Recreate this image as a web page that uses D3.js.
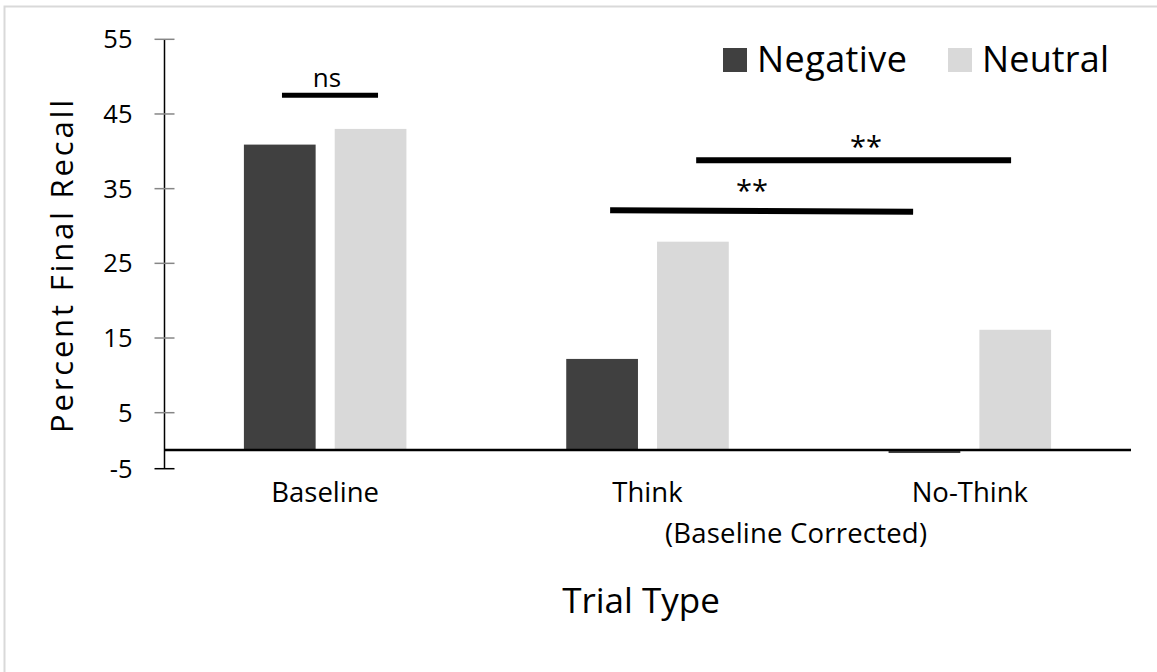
<!DOCTYPE html>
<html>
<head>
<meta charset="utf-8">
<script src="https://cdn.jsdelivr.net/npm/d3@7"></script>
<style>
  html, body { margin: 0; padding: 0; background: #fff; }
  svg { display: block; font-family: "Open Sans", sans-serif; }
</style>
</head>
<body>
<svg id="chart" width="1157" height="672"></svg>
<script>
// ---- data ----
const categories = ["Baseline", "Think", "No-Think"];
const seriesNames = ["Negative", "Neutral"];
const negativeValues = [40.9, 12.2, -0.4];
const neutralValues = [43.0, 27.9, 16.1];
// the bottom tick of the original axis sits at the axis minimum but is labelled "-5"
const yTickValues = [-2.5, 5, 15, 25, 35, 45, 55];
const yTickLabels = ["-5", "5", "15", "25", "35", "45", "55"];
const seriesColors = ["#404040", "#d9d9d9"];
// significance annotations: category + fraction of band for start/end, y in data units
const sigLabels = ["ns", "**", "**"];
const sigFrom = [["Baseline", 0.366], ["Think", 0.651], ["Think", 0.384]];
const sigTo = [["Baseline", 0.664], ["No-Think", 0.628], ["No-Think", 0.324]];
const sigY0 = [47.5, 38.8, 32.1];
const sigY1 = [47.5, 38.8, 31.9];

const svg = d3.select("#chart");

// outer frame
svg.append("rect")
  .attr("x", 4.5).attr("y", 6.5)
  .attr("width", 1200).attr("height", 700)
  .attr("fill", "none").attr("stroke", "#d9d9d9").attr("stroke-width", 2);

const x0 = d3.scaleBand().domain(categories).range([164, 1131]).padding(0);
const x1 = d3.scaleBand().domain(seriesNames).range([0, x0.bandwidth()])
  .paddingInner(0.21).paddingOuter(0.88);
const y = d3.scaleLinear().domain([-2.5, 55]).range([468.7, 39.3]);

// y axis
const yAxis = svg.append("g").attr("transform", "translate(164.5,0)");
yAxis.append("line")
  .attr("x1", 0).attr("x2", 0).attr("y1", y(55)).attr("y2", y(-2.5))
  .attr("stroke", "#000").attr("stroke-width", 1.5);
yAxis.selectAll("line.tick").data(yTickValues).join("line")
  .attr("class", "tick")
  .attr("x1", -10).attr("x2", 10)
  .attr("y1", d => y(d)).attr("y2", d => y(d))
  .attr("stroke", d => d < 0 ? "#000" : "#868686").attr("stroke-width", 1.5);
yAxis.selectAll("text").data(yTickValues).join("text")
  .attr("x", -32).attr("y", d => y(d) + 9)
  .attr("text-anchor", "end")
  .attr("font-size", 25.5).attr("fill", "#000")
  .text((d, i) => yTickLabels[i]);

// bars
const rows = categories.map((c, i) => ({ cat: c, vals: [negativeValues[i], neutralValues[i]] }));
const groups = svg.selectAll("g.grp").data(rows).join("g")
  .attr("class", "grp")
  .attr("transform", d => `translate(${x0(d.cat)},0)`);
groups.selectAll("rect").data(d => d.vals.map((v, j) => ({ v, s: seriesNames[j], c: seriesColors[j] })))
  .join("rect")
  .attr("x", d => x1(d.s))
  .attr("width", x1.bandwidth())
  .attr("y", d => Math.min(y(d.v), y(0)))
  .attr("height", d => Math.abs(y(d.v) - y(0)))
  .attr("fill", d => d.c);

// x axis line
svg.append("line")
  .attr("x1", 164).attr("x2", 1131)
  .attr("y1", y(0)).attr("y2", y(0))
  .attr("stroke", "#000").attr("stroke-width", 2.5);

// category labels
svg.selectAll("text.cat").data(categories).join("text")
  .attr("class", "cat")
  .attr("x", d => x0(d) + x0.bandwidth() / 2)
  .attr("y", 502)
  .attr("text-anchor", "middle")
  .attr("font-size", 27.5)
  .text(d => d);
svg.append("text")
  .attr("x", 796).attr("y", 543)
  .attr("text-anchor", "middle").attr("font-size", 27.5)
  .attr("textLength", 262).attr("lengthAdjust", "spacing")
  .text("(Baseline Corrected)");

// axis titles
svg.append("text")
  .attr("x", 641).attr("y", 613)
  .attr("text-anchor", "middle").attr("font-size", 35)
  .text("Trial Type");
svg.append("text")
  .attr("transform", "translate(73,266.5) rotate(-90)")
  .attr("text-anchor", "middle").attr("font-size", 31)
  .attr("textLength", 333).attr("lengthAdjust", "spacing")
  .text("Percent Final Recall");

// significance annotations
sigLabels.forEach((lab, i) => {
  const xa = x0(sigFrom[i][0]) + sigFrom[i][1] * x0.bandwidth();
  const xb = x0(sigTo[i][0]) + sigTo[i][1] * x0.bandwidth();
  svg.append("line")
    .attr("x1", xa).attr("x2", xb)
    .attr("y1", y(sigY0[i])).attr("y2", y(sigY1[i]))
    .attr("stroke", "#000").attr("stroke-width", i === 0 ? 5 : 6);
  const cx = i === 0 ? (xa + xb) / 2 - 3 : (i === 1 ? 866 : 752);
  svg.append("text")
    .attr("x", cx)
    .attr("y", i === 0 ? y(sigY0[i]) - 8 : y(sigY0[i]) + (i === 1 ? -3 : -9))
    .attr("text-anchor", "middle")
    .attr("font-size", i === 0 ? 26 : 29)
    .text(lab);
});

// legend
const legX = [723, 948];
const legW = [150, 127];
const leg = svg.selectAll("g.leg").data(seriesNames).join("g")
  .attr("class", "leg")
  .attr("transform", (d, i) => `translate(${legX[i]},48)`);
leg.append("rect").attr("width", 24).attr("height", 24)
  .attr("fill", (d, i) => seriesColors[i]);
leg.append("text").attr("x", 34).attr("y", 24)
  .attr("font-size", 36)
  .attr("textLength", (d, i) => legW[i]).attr("lengthAdjust", "spacing")
  .text(d => d);
</script>
</body>
</html>
